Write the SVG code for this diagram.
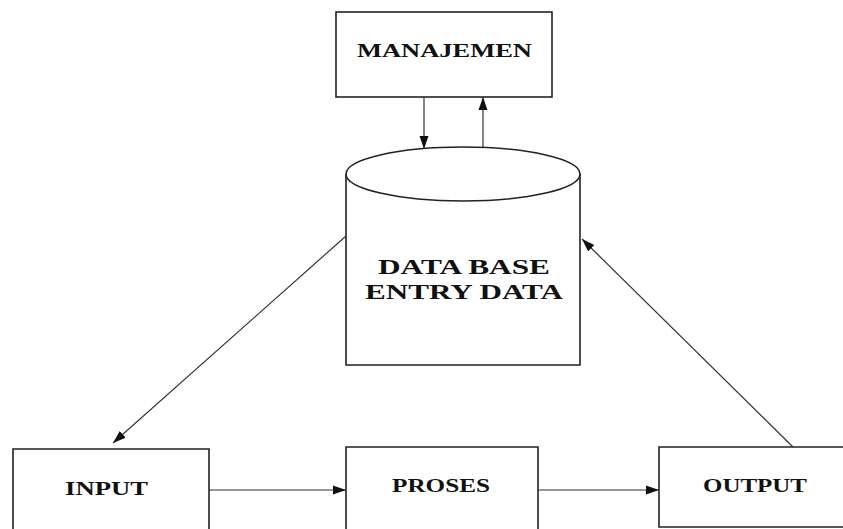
<svg xmlns="http://www.w3.org/2000/svg" width="843" height="529" viewBox="0 0 843 529">
<defs>
<style>
.box{fill:#fff;stroke:#222;stroke-width:1.6}
.lbl{font-family:"Liberation Serif","Times New Roman",serif;font-weight:bold;fill:#111}
.con{stroke:#333;stroke-width:1.2;fill:none;marker-end:url(#ah)}
</style>
<marker id="ah" markerUnits="userSpaceOnUse" markerWidth="14" markerHeight="10" refX="13" refY="5" orient="auto">
<path d="M0,0.5 L13,5 L0,9.5 Z" fill="#111"/>
</marker>
</defs>
<rect width="843" height="529" fill="#fff"/>
<g id="manajemen">
<rect class="box" x="336" y="12" width="216" height="85"/>
<text class="lbl" x="357" y="57" font-size="18" textLength="175" lengthAdjust="spacingAndGlyphs">MANAJEMEN</text>
</g>
<g id="database">
<path class="box" d="M346,174 L346,365 L580,365 L580,174"/>
<ellipse class="box" cx="463" cy="174" rx="117" ry="27"/>
<text class="lbl" x="378" y="274" font-size="22" textLength="172" lengthAdjust="spacingAndGlyphs">DATA BASE</text>
<text class="lbl" x="365" y="299" font-size="22" textLength="198" lengthAdjust="spacingAndGlyphs">ENTRY DATA</text>
</g>
<g id="input">
<path class="box" d="M13,535 L13,449 L209,449 L209,535"/>
<text class="lbl" x="65" y="495" font-size="18" textLength="83" lengthAdjust="spacingAndGlyphs">INPUT</text>
</g>
<g id="proses">
<path class="box" d="M346,535 L346,447 L538,447 L538,535"/>
<text class="lbl" x="392" y="492" font-size="18" textLength="98" lengthAdjust="spacingAndGlyphs">PROSES</text>
</g>
<g id="output">
<path class="box" d="M850,447 L659,447 L659,527 L850,527"/>
<text class="lbl" x="703" y="492" font-size="18" textLength="104" lengthAdjust="spacingAndGlyphs">OUTPUT</text>
</g>
<g id="connectors">
<line class="con" x1="424" y1="97" x2="424" y2="149"/>
<line class="con" x1="483" y1="147" x2="483" y2="97"/>
<line class="con" x1="346" y1="236" x2="113" y2="443"/>
<line class="con" x1="793" y1="447" x2="582" y2="239"/>
<line class="con" x1="209" y1="490" x2="346" y2="490"/>
<line class="con" x1="538" y1="490" x2="659" y2="490"/>
</g>
</svg>
